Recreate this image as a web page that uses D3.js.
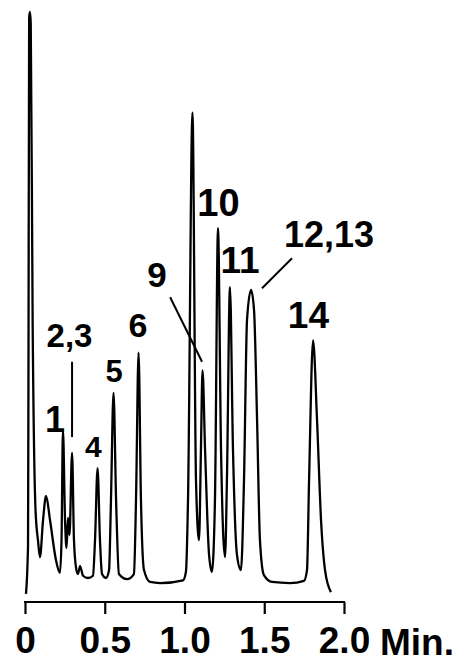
<!DOCTYPE html>
<html>
<head>
<meta charset="utf-8">
<script src="https://cdn.jsdelivr.net/npm/d3@7"></script>
<style>
  body { margin: 0; background: #fff; }
  svg text { font-family: "Liberation Sans", Arial, Helvetica, sans-serif; font-weight: bold; fill: #000; }
</style>
</head>
<body>
<svg id="chart" width="461" height="665"></svg>
<script>
// detector trace, time in minutes and signal in % of full scale
var traceTime = [0.006, 0.019, 0.022, 0.026, 0.031, 0.036, 0.048, 0.066, 0.082, 0.094,
  0.113, 0.132, 0.157,
  0.194, 0.219, 0.229, 0.238, 0.251, 0.26, 0.27, 0.279, 0.295, 0.307,
  0.32, 0.332, 0.345, 0.364, 0.395, 0.426, 0.439, 0.455, 0.47, 0.483,
  0.508, 0.527, 0.539, 0.555, 0.571, 0.589, 0.639, 0.683, 0.696, 0.712,
  0.727, 0.746, 0.784, 0.846, 0.991, 1.009, 1.022, 1.05, 1.072, 1.091,
  1.103, 1.113, 1.129, 1.154, 1.172, 1.191, 1.21, 1.229, 1.254, 1.266,
  1.285, 1.304, 1.329, 1.354, 1.373, 1.392, 1.417, 1.436, 1.455, 1.473,
  1.498, 1.549, 1.661, 1.749, 1.768, 1.781, 1.806, 1.831, 1.856, 1.881, 1.918];
var traceSignal = [-2.8, 5.8, 40, 99, 100, 98, 45, 12, 6.5, 3.7,
  10.2, 14.5, 10.2,
  3.2, 0.9, 6.7, 26.1, 10.2, 5.3, 10.6, 7.6, 22.1, 6.7,
  1.8, 0.7, 2.1, 0.4, 0, 0.4, 6.7, 19.4, 6.7, 0.7,
  0, 1.4, 13.8, 32.7, 13.8, 0.7, -0.2, 0.7, 13.8, 39.8,
  13.8, 1.4, -0.7, -0.9, -0.4, 1.1, 13.8, 82.2, 17.3, 6.7,
  22.6, 36.7, 22.6, 4.1, 1.1, 13.8, 61.8, 22.6, 3.7, 17.3,
  51.4, 22.6, 4.1, 1.4, 17.3, 45.6, 50.9, 47.3, 27.9, 6.7,
  0.5, -0.7, -0.9, -0.5, 1.4, 17.3, 42.0, 27.9, 10.2, 1.4, -2.5];

// x axis ticks
var xTickValues = [0, 0.5, 1.0, 1.5, 2.0];
var xTickLabels = ["0", "0.5", "1.0", "1.5", "2.0"];
var xUnit = "Min.";

// peak names
var peakNames = ["1", "2,3", "4", "5", "6", "9", "10", "11", "12,13", "14"];

// label placement (time, signal of text baseline, font size)
var labelLayout = [
  {t: 0.188, v: 25.8, size: 36},
  {t: 0.279, v: 40.8, size: 33},
  {t: 0.429, v: 21.4, size: 30},
  {t: 0.558, v: 34.6, size: 31},
  {t: 0.708, v: 42.6, size: 34},
  {t: 0.827, v: 51.4, size: 35},
  {t: 1.213, v: 64.0, size: 38},
  {t: 1.348, v: 53.9, size: 37},
  {t: 1.906, v: 58.5, size: 36},
  {t: 1.777, v: 44.2, size: 37}
];
// leader lines from label to peak
var leaders = [
  {t1: 0.295, v1: 38.2, t2: 0.295, v2: 24.9},
  {t1: 0.91, v1: 49.6, t2: 1.11, v2: 38.2},
  {t1: 1.486, v1: 51.2, t2: 1.674, v2: 56.5}
];

var svg = d3.select("#chart");

var x = d3.scaleLinear().domain([0, 2]).range([25, 344]);
var y = d3.scaleLinear().domain([0, 100]).range([578, 12]);

var trace = d3.zip(traceTime, traceSignal);

var line = d3.line()
  .x(function(d) { return x(d[0]); })
  .y(function(d) { return y(d[1]); })
  .curve(d3.curveMonotoneX);

svg.append("path")
  .datum(trace)
  .attr("fill", "none")
  .attr("stroke", "#000")
  .attr("stroke-width", 2.3)
  .attr("stroke-linejoin", "round")
  .attr("d", line);

// axis
var axis = d3.axisBottom(x)
  .tickValues(xTickValues)
  .tickFormat(function(d, i) { return xTickLabels[i]; })
  .tickSizeInner(12)
  .tickSizeOuter(0)
  .tickPadding(13);

var gx = svg.append("g")
  .attr("transform", "translate(0,602)")
  .call(axis);
gx.select(".domain").attr("stroke", "#000").attr("stroke-width", 2.2)
  .attr("d", "M" + (x(0) - 1) + ",0H" + (x(2) + 1));
gx.selectAll(".tick line").attr("stroke", "#000").attr("stroke-width", 2.2);
gx.selectAll(".tick text")
  .attr("font-size", 37)
  .attr("font-family", "Liberation Sans, Arial, sans-serif")
  .attr("font-weight", "bold")
  .attr("fill", "#000");

svg.append("text")
  .attr("x", 380)
  .attr("y", 655)
  .attr("font-size", 37)
  .text(xUnit);

// peak labels
svg.append("g").selectAll("text")
  .data(peakNames)
  .enter().append("text")
  .attr("text-anchor", "middle")
  .attr("x", function(d, i) { return x(labelLayout[i].t); })
  .attr("y", function(d, i) { return y(labelLayout[i].v); })
  .attr("font-size", function(d, i) { return labelLayout[i].size; })
  .text(function(d) { return d; });

svg.append("g").selectAll("line")
  .data(leaders)
  .enter().append("line")
  .attr("x1", function(d) { return x(d.t1); })
  .attr("y1", function(d) { return y(d.v1); })
  .attr("x2", function(d) { return x(d.t2); })
  .attr("y2", function(d) { return y(d.v2); })
  .attr("stroke", "#000")
  .attr("stroke-width", 2);
</script>
</body>
</html>
